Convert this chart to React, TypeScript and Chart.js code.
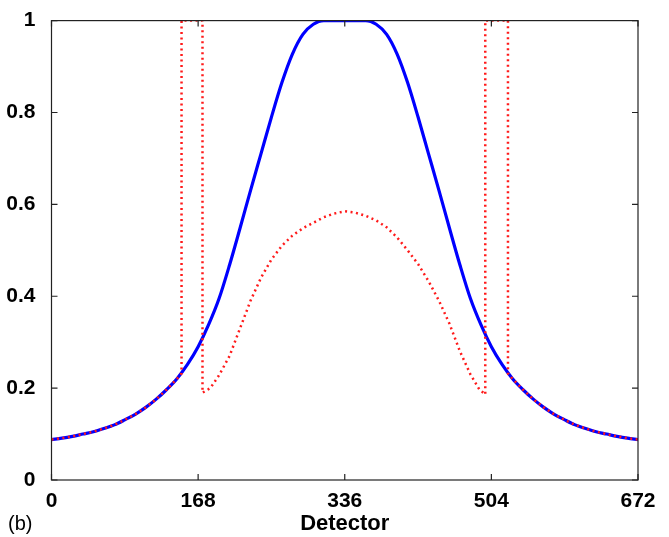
import React, { useEffect, useRef } from "react";
import { Chart, registerables } from "chart.js";

Chart.register(...registerables);

const xTicks = [0, 168, 336, 504, 672];
const yTicks = [0, 0.2, 0.4, 0.6, 0.8, 1];

const blueX = [0, 12, 24, 36, 48, 60, 72, 84, 96, 108, 120, 132, 144, 156, 168, 180, 192, 204, 216, 228, 240, 252, 264, 276, 288, 300, 312, 324, 336,
  348, 360, 372, 384, 396, 408, 420, 432, 444, 456, 468, 480, 492, 504, 516, 528, 540, 552, 564, 576, 588, 600, 612, 624, 636, 648, 660, 672];
const blueY = [0.088, 0.091, 0.095, 0.1, 0.105, 0.112, 0.12, 0.131, 0.143, 0.158, 0.176, 0.197, 0.221, 0.252, 0.29, 0.338, 0.395, 0.468, 0.548, 0.63, 0.71, 0.79, 0.865, 0.927, 0.97, 0.992, 1.0, 1.0, 1.0,
  1.0, 1.0, 0.992, 0.97, 0.927, 0.865, 0.79, 0.71, 0.63, 0.548, 0.468, 0.395, 0.338, 0.29, 0.252, 0.221, 0.197, 0.176, 0.158, 0.143, 0.131, 0.12, 0.112, 0.105, 0.1, 0.095, 0.091, 0.088];

const redX = [0, 12, 24, 36, 48, 60, 72, 84, 96, 108, 120, 132, 144, 149, 149, 173, 173, 182, 192, 204, 216, 228, 240, 252, 264, 276, 288, 300, 312, 324, 336,
  348, 360, 372, 384, 396, 408, 420, 432, 444, 456, 468, 480, 490, 497, 497, 523, 523, 528, 540, 552, 564, 576, 588, 600, 612, 624, 636, 648, 660, 672];
const redY = [0.088, 0.091, 0.095, 0.1, 0.105, 0.112, 0.12, 0.131, 0.143, 0.158, 0.176, 0.197, 0.221, 0.232, 1.0, 1.0, 0.19, 0.2, 0.228, 0.27, 0.33, 0.39, 0.44, 0.48, 0.51, 0.532, 0.548, 0.56, 0.572, 0.58, 0.585,
  0.582, 0.575, 0.565, 0.55, 0.528, 0.5, 0.47, 0.433, 0.39, 0.34, 0.28, 0.23, 0.198, 0.186, 1.0, 1.0, 0.232, 0.221, 0.197, 0.176, 0.158, 0.143, 0.131, 0.12, 0.112, 0.105, 0.1, 0.095, 0.091, 0.088];

const FONT = "'Liberation Sans', Arial, sans-serif";

const boxPlugin = {
  id: "matlabBox",
  afterDraw(chart: any) {
    const { ctx, chartArea } = chart;
    const xs = chart.scales.x;
    const ys = chart.scales.y;
    const L = 6;
    ctx.save();
    ctx.strokeStyle = "#222";
    ctx.lineWidth = 1.2;
    ctx.strokeRect(chartArea.left, chartArea.top, chartArea.right - chartArea.left, chartArea.bottom - chartArea.top);
    ctx.beginPath();
    for (const v of xTicks) {
      const px = xs.getPixelForValue(v);
      ctx.moveTo(px, chartArea.bottom);
      ctx.lineTo(px, chartArea.bottom - L);
      ctx.moveTo(px, chartArea.top);
      ctx.lineTo(px, chartArea.top + L);
    }
    for (const v of yTicks) {
      const py = ys.getPixelForValue(v);
      ctx.moveTo(chartArea.left, py);
      ctx.lineTo(chartArea.left + L, py);
      ctx.moveTo(chartArea.right, py);
      ctx.lineTo(chartArea.right - L, py);
    }
    ctx.stroke();
    ctx.fillStyle = "#000";
    ctx.font = "20px 'Liberation Sans', Arial, sans-serif";
    ctx.textAlign = "left";
    ctx.textBaseline = "alphabetic";
    ctx.fillText("(b)", 8, 530);
    ctx.restore();
  },
};

export default function App() {
  const ref = useRef<HTMLCanvasElement>(null);
  useEffect(() => {
    document.body.style.margin = "0";
    document.body.style.overflow = "hidden";
    const chart = new Chart(ref.current as HTMLCanvasElement, {
      type: "scatter",
      data: {
        datasets: [
          {
            label: "red",
            data: redX.map((x, i) => ({ x, y: redY[i] })),
            showLine: true,
            borderColor: "#ff1a1a",
            borderWidth: 2.5,
            borderDash: [2, 3.5],
            pointRadius: 0,
            tension: 0,
          },
          {
            label: "blue",
            data: blueX.map((x, i) => ({ x, y: blueY[i] })),
            showLine: true,
            borderColor: "#0000ff",
            borderWidth: 3.2,
            pointRadius: 0,
            cubicInterpolationMode: "monotone",
          },
        ],
      },
      options: {
        animation: false,
        responsive: false,
        maintainAspectRatio: false,
        layout: { padding: { left: 0, right: 31, top: 20, bottom: 0 } },
        plugins: { legend: { display: false }, tooltip: { enabled: false } },
        scales: {
          x: {
            type: "linear",
            min: 0,
            max: 672,
            grid: { display: false },
            border: { display: false },
            afterBuildTicks: (s: any) => {
              s.ticks = xTicks.map((v) => ({ value: v }));
            },
            afterFit: (s: any) => {
              s.height = 57;
            },
            ticks: {
              color: "#000",
              padding: 1,
              maxRotation: 0,
              autoSkip: false,
              font: { family: FONT, size: 21, weight: "bold" },
              callback: (v: any) => String(v),
            },
            title: {
              display: true,
              text: "Detector",
              color: "#000",
              padding: { top: 0, bottom: 0 },
              font: { family: FONT, size: 22, weight: "bold" },
            },
          },
          y: {
            type: "linear",
            min: 0,
            max: 1,
            grid: { display: false },
            border: { display: false },
            afterBuildTicks: (s: any) => {
              s.ticks = yTicks.map((v) => ({ value: v }));
            },
            afterFit: (s: any) => {
              s.width = 51.5;
            },
            ticks: {
              color: "#000",
              padding: 8,
              autoSkip: false,
              font: { family: FONT, size: 21, weight: "bold" },
              callback: (v: any) => String(Math.round(v * 10) / 10),
            },
          },
        },
      },
      plugins: [boxPlugin],
    } as any);
    return () => chart.destroy();
  }, []);
  return (
    <div style={{ width: 669, height: 537 }}>
      <canvas ref={ref} width={669} height={537} style={{ display: "block", width: 669, height: 537 }} />
    </div>
  );
}
